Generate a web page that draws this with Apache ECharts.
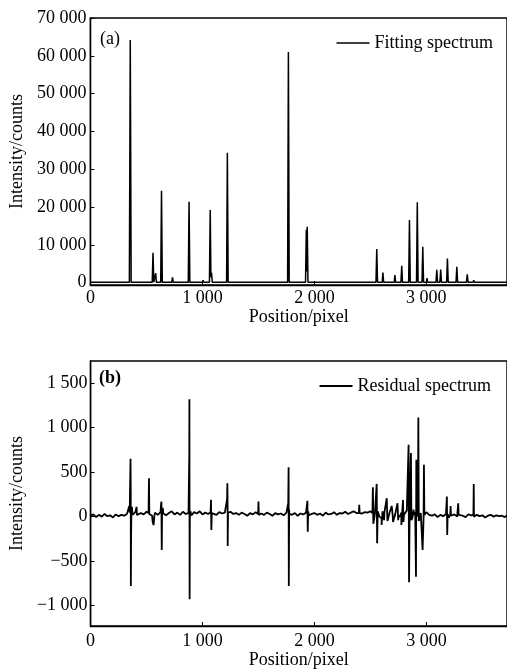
<!DOCTYPE html>
<html>
<head>
<meta charset="utf-8">
<script src="https://cdn.jsdelivr.net/npm/echarts@6/dist/echarts.min.js"></script>
<style>html,body{margin:0;padding:0;background:#fff;}#c{width:507px;height:671px;}</style>
</head>
<body>
<div id="c"></div>
<script>
// ---- Data ----
const xTicks = [0, 1000, 2000, 3000];
const fitTicks = [0, 10000, 20000, 30000, 40000, 50000, 60000, 70000];
const resTicks = [-1000, -500, 0, 500, 1000, 1500];

// (a) fitting spectrum: positions and intensities
const fitPos = [0, 348, 356, 364, 552, 559, 566, 577, 583, 589, 628, 635, 642, 727, 733, 739, 874, 881, 888, 1001, 1006, 1011, 1063, 1070, 1076, 1082, 1088, 1216, 1223, 1230, 1761, 1768, 1775, 1921, 1928, 1932, 1936, 1943, 1998, 2003, 2008, 2550, 2557, 2564, 2606, 2612, 2618, 2713, 2719, 2725, 2773, 2780, 2787, 2842, 2849, 2856, 2912, 2919, 2926, 2961, 2968, 2975, 3001, 3006, 3011, 3086, 3093, 3100, 3121, 3128, 3135, 3181, 3188, 3195, 3265, 3272, 3279, 3358, 3365, 3372, 3418, 3423, 3428, 3502, 3507, 3512, 3720];
const fitVal = [150, 150, 64200, 150, 150, 7900, 150, 150, 2500, 150, 150, 24300, 150, 150, 1400, 150, 150, 21400, 150, 150, 700, 150, 150, 19200, 1500, 2600, 150, 150, 34400, 150, 150, 61000, 150, 150, 14000, 3000, 14800, 150, 150, 600, 150, 150, 8900, 150, 150, 2700, 150, 150, 2000, 150, 150, 4500, 150, 150, 16600, 150, 150, 21300, 150, 150, 9500, 150, 150, 1200, 150, 150, 3400, 150, 150, 3500, 150, 150, 6400, 150, 150, 4200, 150, 150, 2200, 150, 150, 700, 150, 150, 400, 150, 150];

// (b) residual spectrum: background samples every residStep pixels
const residStep = 25;
const residNoise = [
  10, 25, -5, 20, 0, 30, 5, 15, -10, 25, 5, 20, 10,
  30, 45, 20, 50, 15, 40, 25, 55, 30, 10, 45, 20, 50, 35, 15, 40, 60, 25, 45, 20,
  55, 30, 40, 15, 50, 35, 60, 25, 45, 30, 55, 40, 20, 50, 35, 45, 25, 55, 30, 40,
  20, 45, 30, 10, 40, 25, 50, 15, 35, 20, 45, 30, 10, 40, 25, 35, 15, 45, 30, 20,
  40, 10, 35, 25, 45, 15, 30, 40, 20, 35, 10, 45, 25, 30, 50, 20, 40, 35, 55, 30,
  45, 60, 40, 55, 35, 50, 45, 60,
  40, 10, 55, -20, 50, 15, 60, 0, 35, -10, 45, 20, 70, 30, -15, 55, 25, 40, -5, 50, 20,
  10, 25, -5, 20, 5, 30, -10, 15, 25, 0, 20, 10, -5, 25, 15, 0, 20, 5, 15, -10,
  10, 20, 0, 15, 5, 10, -5, 15
];
// residual spikes: [position, counts]
const residSpikePos = [338, 346, 352, 355, 357, 359, 360, 362, 365, 370, 378,
  408, 411, 414, 518, 522, 526, 555, 563, 570,
  625, 630, 633, 636, 639, 645, 655,
  878, 882, 883, 885, 887, 892,
  1072, 1076, 1079, 1083,
  1216, 1220, 1222, 1225, 1228,
  1497, 1500, 1503,
  1760, 1766, 1769, 1771, 1774, 1780,
  1932, 1937, 1940, 1944,
  2397, 2400, 2404,
  2518, 2522, 2526, 2540, 2556, 2560, 2565, 2580, 2600, 2608, 2622, 2646, 2652, 2670, 2690, 2702, 2720,
  2742, 2748, 2770, 2777, 2791, 2795, 2815, 2841, 2845, 2850, 2862, 2866, 2885, 2890, 2907, 2910, 2913,
  2928, 2932, 2952, 2966, 2978, 2982,
  3178, 3183, 3186, 3190, 3213, 3216, 3220, 3280, 3284, 3288, 3420, 3423, 3426];
const residSpikeVal = [40, 120, 250, 470, 650, 300, -780, -250, 60, 110, 40,
  30, 110, 20, 40, 430, 20, -60, -95, 10,
  60, 140, 170, -375, 60, 100, 40,
  50, 695, 1320, -930, 20, 60,
  50, 190, -150, 40,
  60, 200, 376, -330, 40,
  30, 170, 20,
  60, 150, 556, -780, 80, 40,
  40, 177, -169, 60,
  40, 132, 40,
  40, 330, -80, 30, 368, -300, 60, 0, -93, 60, -40, 207, -50, 40, 120, -60, 20,
  150, -40, 20, -95, 188, -60, 30, 807, -739, 60, 714, -40, 80, 20, -676, 640, 0,
  1115, -50, 40, -375, 582, 20,
  30, 225, -206, 30, 20, 120, 10, 20, 150, 20, 20, 367, 10];

// ---- Build series data ----
const fitData = fitPos.map((p, i) => [p, fitVal[i]]);
const residData = residNoise.map((v, i) => [i * residStep, v])
  .concat(residSpikePos.map((p, i) => [p, residSpikeVal[i]]))
  .sort((a, b) => a[0] - b[0]);

const FONT = "'Liberation Serif','Times New Roman',serif";
const FS = 18;
function fmt(v) {
  const s = Math.abs(v).toString();
  const t = s.length > 3 ? s.slice(0, -3) + ' ' + s.slice(-3) : s;
  return (v < 0 ? '\u2212' : '') + t;
}
const txt = { color: '#000', fontFamily: FONT, fontSize: FS };
const axLine = { show: true, onZero: false, lineStyle: { color: '#000', width: 1.4 } };

function xAx(gi, margin, gap) {
  return {
    type: 'value', gridIndex: gi, min: 0, max: 3720, interval: 1000,
    name: 'Position/pixel', nameLocation: 'middle', nameGap: gap,
    nameTextStyle: txt,
    axisLine: axLine,
    axisTick: { show: true, inside: true, length: 4, lineStyle: { color: '#000' }, customValues: xTicks },
    axisLabel: Object.assign({ margin: margin, formatter: fmt, customValues: xTicks }, txt),
    splitLine: { show: false }
  };
}
function yAx(gi, min, max, ticks, gap, margin) {
  return {
    type: 'value', gridIndex: gi, min: min, max: max,
    name: 'Intensity/counts', nameLocation: 'middle', nameGap: gap, nameRotate: 90,
    nameTextStyle: txt,
    axisLine: axLine,
    axisTick: { show: true, inside: true, length: 4, lineStyle: { color: '#000' }, customValues: ticks },
    axisLabel: Object.assign({ margin: margin, formatter: fmt, customValues: ticks }, txt),
    splitLine: { show: false }
  };
}

const chart = echarts.init(document.getElementById('c'), null, { renderer: 'canvas' });
chart.setOption({
  animation: false,
  backgroundColor: '#fff',
  title: [
    { text: '(a)', left: 95, top: 25, textStyle: { color: '#000', fontFamily: FONT, fontSize: FS, fontWeight: 'normal' } },
    { text: '(b)', left: 94, top: 364, textStyle: { color: '#000', fontFamily: FONT, fontSize: FS, fontWeight: 'bold' } }
  ],
  legend: [
    { data: ['Fitting spectrum'], right: 9, top: 29, icon: 'rect', itemWidth: 33, itemHeight: 1.5, itemGap: 2,
      textStyle: Object.assign({ lineHeight: 18 }, txt) },
    { data: ['Residual spectrum'], right: 11, top: 372, icon: 'rect', itemWidth: 33, itemHeight: 2, itemGap: 2,
      textStyle: Object.assign({ lineHeight: 18 }, txt) }
  ],
  grid: [
    { left: 89, right: -10, top: 18, bottom: 386, show: true, borderColor: '#000', borderWidth: 1.4, backgroundColor: 'transparent' },
    { left: 89, right: -10, top: 361, bottom: 45, show: true, borderColor: '#000', borderWidth: 1.4, backgroundColor: 'transparent' }
  ],
  xAxis: [xAx(0, 4, 22), xAx(1, 6, 25)],
  yAxis: [yAx(0, -600, 70000, fitTicks, 62, 4), yAx(1, -1230, 1750, resTicks, 62, 3)],
  series: [
    { name: 'Fitting spectrum', type: 'line', xAxisIndex: 0, yAxisIndex: 0, data: fitData,
      showSymbol: false, symbol: 'none', lineStyle: { color: '#000', width: 1.5 }, itemStyle: { color: '#000' } },
    { name: 'Residual spectrum', type: 'line', xAxisIndex: 1, yAxisIndex: 1, data: residData,
      showSymbol: false, symbol: 'none', lineStyle: { color: '#000', width: 1.8 }, itemStyle: { color: '#000' } }
  ]
});
</script>
</body>
</html>
